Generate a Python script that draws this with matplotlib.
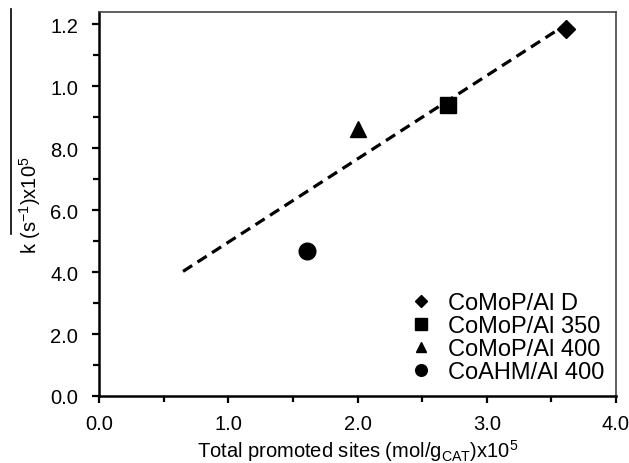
import matplotlib.pyplot as plt
from matplotlib.lines import Line2D
from matplotlib.ticker import MultipleLocator

plt.rcParams['font.family'] = ['Liberation Sans', 'DejaVu Sans']

# Adatok
labels = ["CoMoP/Al D", "CoMoP/Al 350", "CoMoP/Al 400", "CoAHM/Al 400"]
markers = ["D", "s", "^", "o"]
sizes = [9, 12, 11, 12]
sites = [3.61, 2.70, 2.00, 1.61]
k_vals = [11.85, 9.40, 8.60, 4.68]

fit_x = [0.65, 3.60]
fit_y = [4.02, 11.95]

yticks = [0, 2, 4, 6, 8, 10, 12]
ytick_labels = ["0.0", "2.0", "4.0", "6.0", "8.0", "1.0", "1.2"]
xticks = [0, 1, 2, 3, 4]
xtick_labels = ["0.0", "1.0", "2.0", "3.0", "4.0"]

fig = plt.figure(figsize=(6.29, 4.64), dpi=100)
ax = fig.add_axes([99 / 629, 1 - 397 / 464, 517 / 629, 384 / 464])

ax.plot(fit_x, fit_y, color="black", linestyle=(0, (3.4, 2.0)), linewidth=2.3, zorder=2)
for x, y, m, s, lab in zip(sites, k_vals, markers, sizes, labels):
    ax.plot(x, y, marker=m, markersize=s, color="black", linestyle="none", label=lab, zorder=3)

ax.set_xlim(0, 4.0)
ax.set_ylim(0, 12.39)
ax.set_xticks(xticks)
ax.set_xticklabels(xtick_labels)
ax.set_yticks(yticks)
ax.set_yticklabels(ytick_labels)
ax.xaxis.set_minor_locator(MultipleLocator(0.5))
ax.yaxis.set_minor_locator(MultipleLocator(1))
ax.tick_params(which="both", direction="out", labelsize=14.5, width=1.6, color="black")
ax.tick_params(axis="x", which="major", length=5, pad=8)
ax.tick_params(axis="y", which="major", length=5, pad=10)
ax.tick_params(which="minor", length=4)

for side in ["left", "bottom"]:
    ax.spines[side].set_linewidth(1.8)
    ax.spines[side].set_color("black")
for side in ["top", "right"]:
    ax.spines[side].set_linewidth(1.2)
    ax.spines[side].set_color("#444444")

ax.set_xlabel("Total promoted sites (mol/g$_{\\mathregular{CAT}}$)x10$^{\\mathregular{5}}$", fontsize=14.5, labelpad=3)
ax.set_ylabel("k (s$^{\\mathregular{-1}}$)x10$^{\\mathregular{5}}$", fontsize=14.5, labelpad=5)

ax.legend(loc="lower right", bbox_to_anchor=(0.996, 0.008), borderaxespad=0, frameon=False,
          fontsize=17, markerscale=0.7, handletextpad=0.5, labelspacing=0.05, handlelength=1.3)

# függőleges vonal a bal szélen
fig.add_artist(Line2D([11 / 629, 11 / 629], [1 - 10 / 464, 1 - 235 / 464], color="black", linewidth=1.2))

fig.savefig("out.png", dpi=100)
